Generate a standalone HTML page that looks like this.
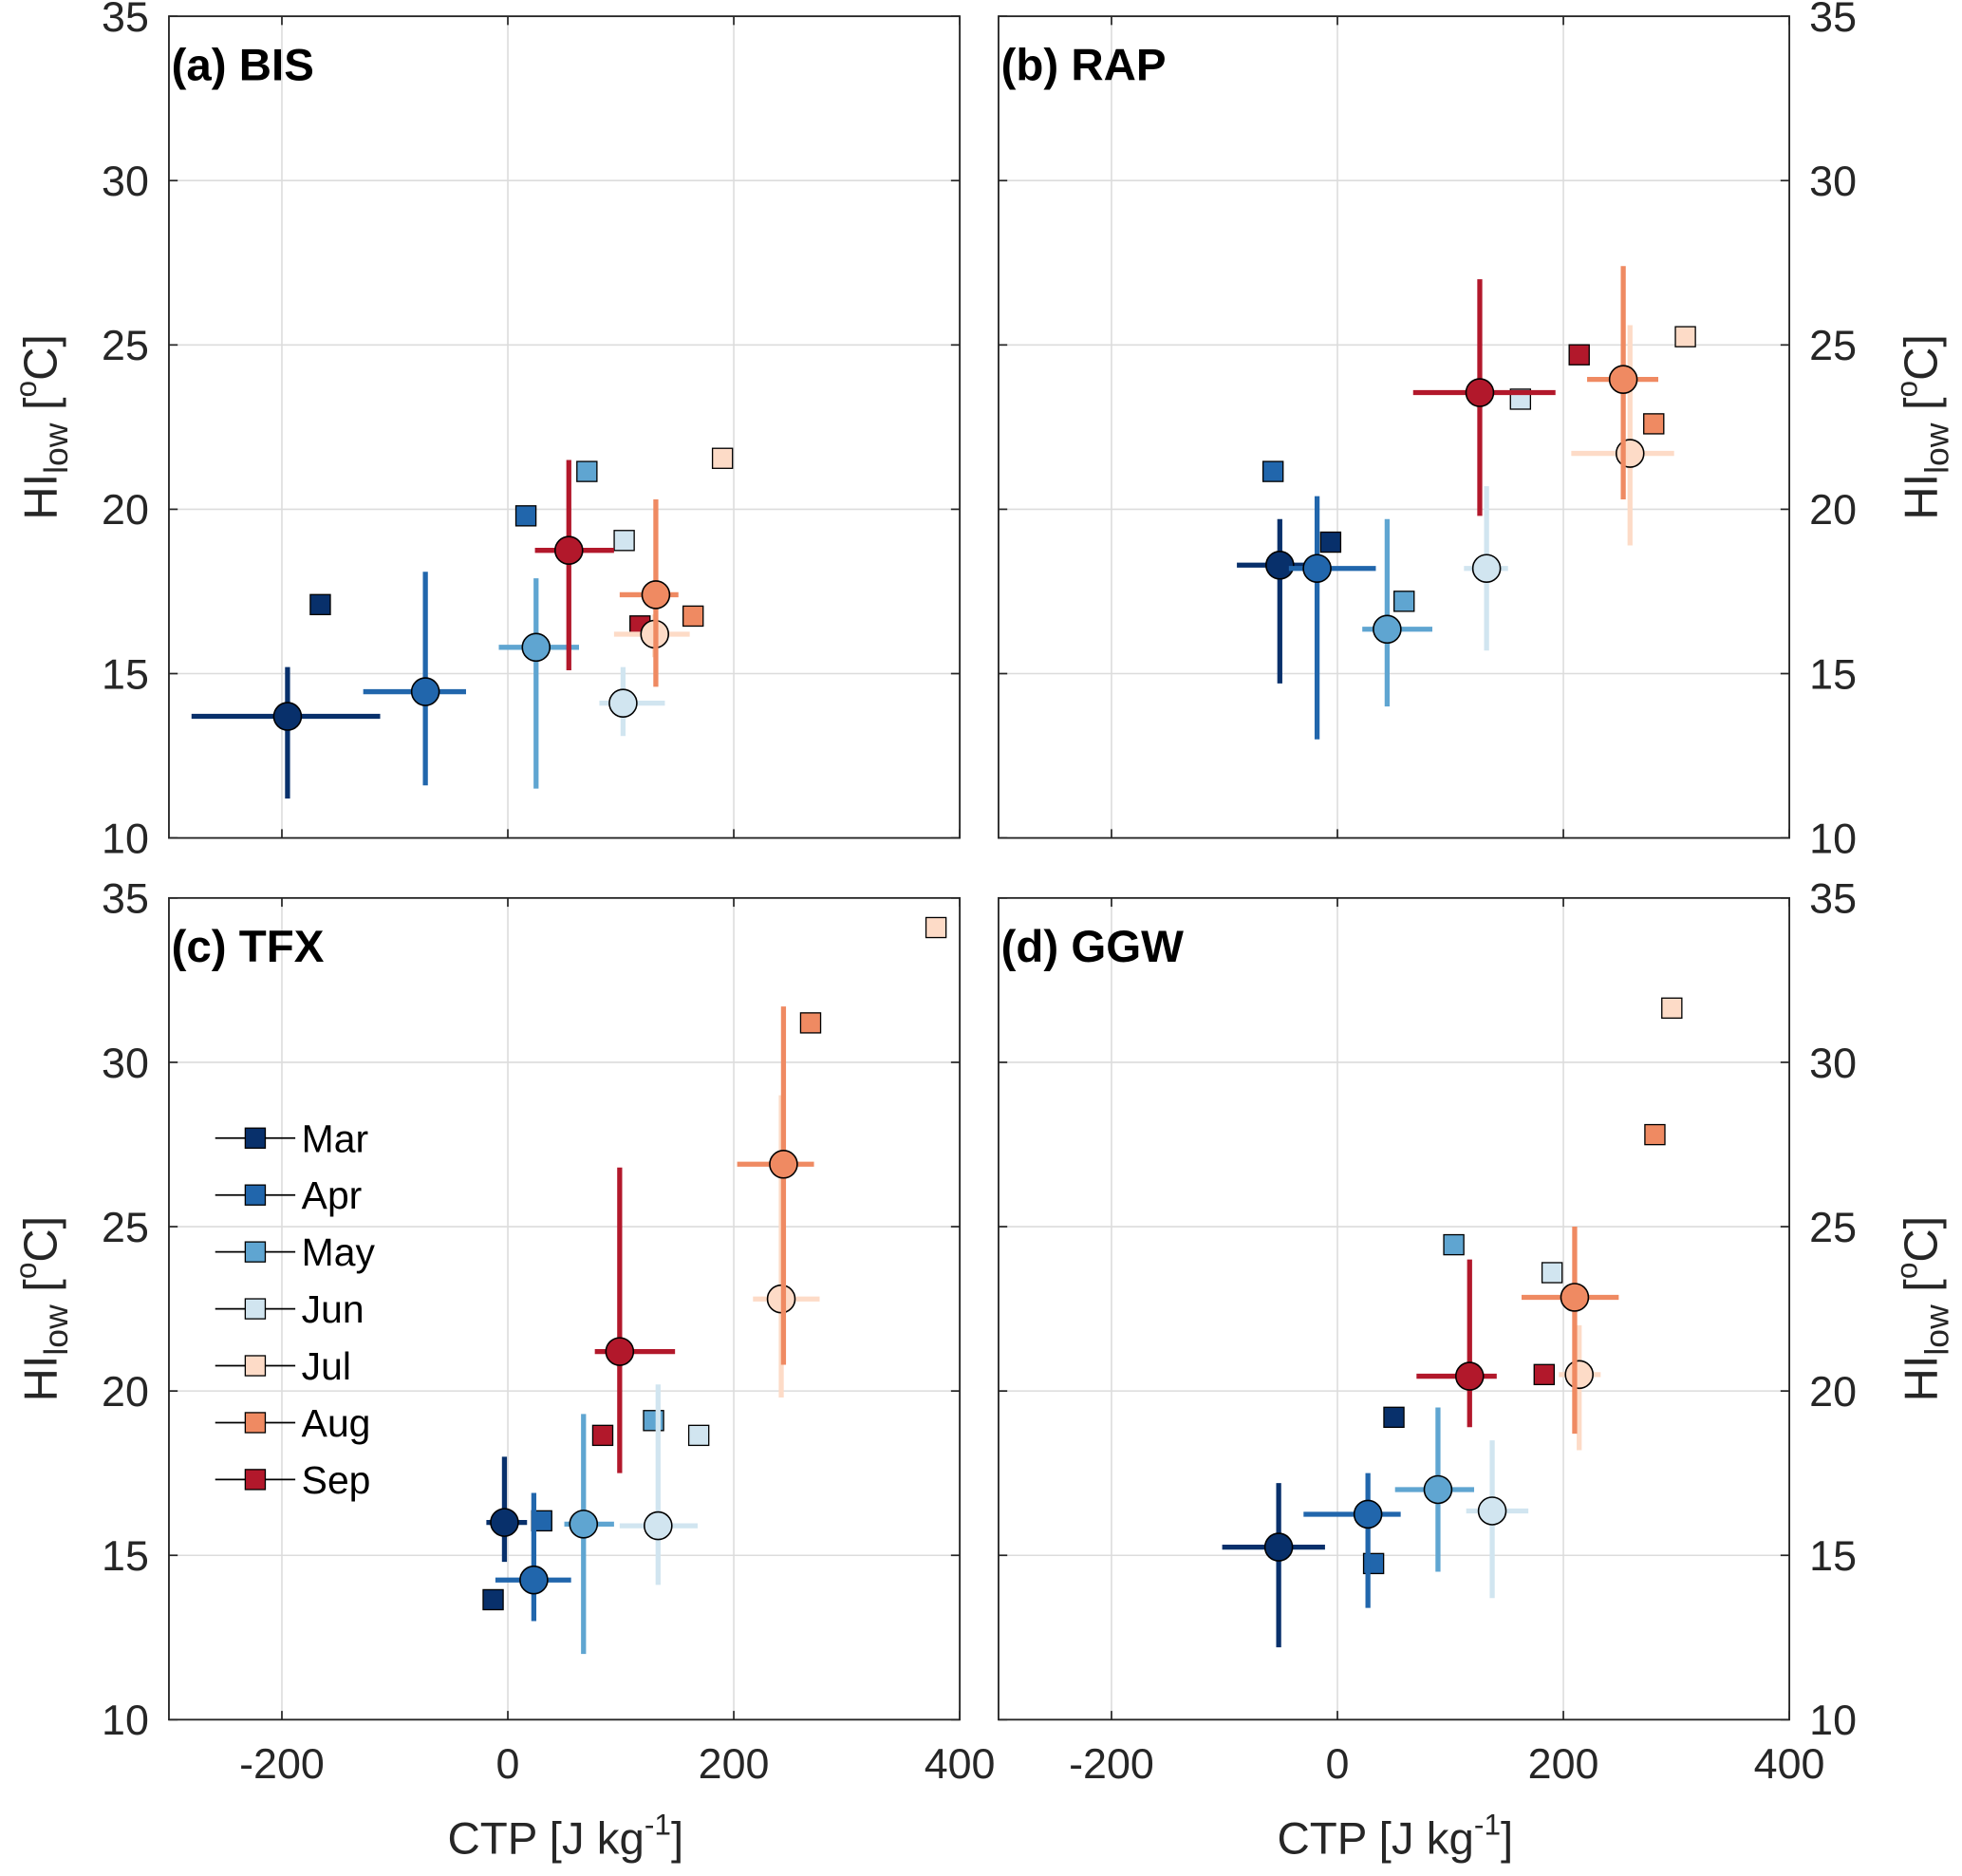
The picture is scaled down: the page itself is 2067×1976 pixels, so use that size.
<!DOCTYPE html>
<html><head><meta charset="utf-8"><style>
html,body{margin:0;padding:0;background:#fff;}
svg{display:block;font-family:"Liberation Sans",Arial,sans-serif;}
</style></head><body>
<svg id="chart" width="2067" height="1976" viewBox="0 0 1568 1500" preserveAspectRatio="none" xmlns="http://www.w3.org/2000/svg"></svg>
<script>
const months=["Mar","Apr","May","Jun","Jul","Aug","Sep"];
const colors=["#08306b","#2166ac","#5fa5d1","#d1e5f0","#fddbc7","#ef8a62","#b2182b"];
const xTicks=[-200,0,200,400];
const yTicks=[10,15,20,25,30,35];
const panelLabels=["(a) BIS","(b) RAP","(c) TFX","(d) GGW"];
const cx=[[-195,-73,25,102,130,131,54],[-51,-18,44,132,259,253,126],[-3,23,67,133,242,244,99],[-52,27,89,137,214,210,117]];
const cy=[[13.7,14.45,15.8,14.1,16.2,17.4,18.75],[18.3,18.2,16.35,18.2,21.7,23.95,23.55],[16.0,14.25,15.95,15.9,22.8,26.9,21.2],[15.25,16.25,17.0,16.35,20.5,22.85,20.45]];
const xlo=[[-280,-128,-8,81,94,99,24],[-89,-43,22,112,207,221,67],[-19,-11,50,99,217,203,77],[-102,-30,51,114,196,163,70]];
const xhi=[[-113,-37,63,139,161,151,94],[-12,34,84,151,298,284,193],[17,56,94,168,276,271,148],[-11,56,121,169,233,249,141]];
const ylo=[[11.2,11.6,11.5,13.1,15.5,14.6,15.1],[14.7,13.0,14.0,15.7,18.9,20.3,19.8],[14.8,13.0,12.0,14.1,19.8,20.8,17.5],[12.2,13.4,14.5,13.7,18.2,18.7,18.9]];
const yhi=[[15.2,18.1,17.9,15.2,16.8,20.3,21.5],[19.7,20.4,19.7,20.7,25.6,27.4,27.0],[18.0,16.9,19.3,20.2,29.0,31.7,26.8],[17.2,17.5,19.5,18.5,22.0,25.0,24.0]];
const sx=[[-166,16,70,103,190,164,117],[-6,-57,59,162,308,280,214],[-13,30,129,169,379,268,84],[50,32,103,190,296,281,183]];
const sy=[[17.1,19.8,21.15,19.05,21.55,16.75,16.45],[19.0,21.15,17.2,23.35,25.25,22.6,24.7],[13.65,16.05,19.1,18.65,34.1,31.2,18.65],[19.2,14.75,24.45,23.6,31.65,27.8,20.5]];

const NS="http://www.w3.org/2000/svg";
const svg=document.getElementById("chart");
function mk(tag,attrs,parent){const e=document.createElementNS(NS,tag);for(const k in attrs)e.setAttribute(k,attrs[k]);(parent||svg).appendChild(e);return e;}
const panels=[{x0:135,y0:13},{x0:798,y0:13},{x0:135,y0:718},{x0:798,y0:718}];
const W=632,H=657,XMIN=-300,XMAX=400,YMIN=10,YMAX=35;
const yTitle='HI<tspan font-size="27" dy="9">low</tspan><tspan dy="-9"> [</tspan><tspan font-size="24" dy="-16">o</tspan><tspan dy="16">C]</tspan>';
panels.forEach((p,pi)=>{
  const g=mk("g",{});
  
  
  const X=v=>p.x0+(v-XMIN)/(XMAX-XMIN)*W;
  const Y=v=>p.y0+H-(v-YMIN)/(YMAX-YMIN)*H;
  mk("rect",{x:p.x0,y:p.y0,width:W,height:H,fill:"#fff"},g);
  xTicks.forEach(t=>{if(t<XMAX){mk("line",{x1:X(t),x2:X(t),y1:p.y0,y2:p.y0+H,stroke:"#dcdcdc","stroke-width":1.2},g);}
    mk("line",{x1:X(t),x2:X(t),y1:p.y0+H,y2:p.y0+H-7,stroke:"#262626","stroke-width":1.3},g);
    mk("line",{x1:X(t),x2:X(t),y1:p.y0,y2:p.y0+7,stroke:"#262626","stroke-width":1.3},g);
    if(pi>=2){const tx=mk("text",{x:X(t),y:p.y0+H+47,"text-anchor":"middle","font-size":34,fill:"#262626"},g);tx.textContent=t;
      }
  });
  yTicks.forEach(t=>{if(t>YMIN&&t<YMAX)mk("line",{x1:p.x0,x2:p.x0+W,y1:Y(t),y2:Y(t),stroke:"#dcdcdc","stroke-width":1.2},g);
    mk("line",{x1:p.x0,x2:p.x0+7,y1:Y(t),y2:Y(t),stroke:"#262626","stroke-width":1.3},g);
    mk("line",{x1:p.x0+W,x2:p.x0+W-7,y1:Y(t),y2:Y(t),stroke:"#262626","stroke-width":1.3},g);
    const left=pi%2==0;
    const tx=mk("text",{x:left?p.x0-16:p.x0+W+16,y:Y(t)+12,"text-anchor":left?"end":"start","font-size":34,fill:"#262626"},g);tx.textContent=t;
    
  });
  mk("rect",{x:p.x0,y:p.y0,width:W,height:H,fill:"none",stroke:"#262626","stroke-width":1.4},g);
  const lb=mk("text",{x:p.x0+2,y:p.y0+51,"font-size":36,"font-weight":"bold",fill:"#000"},g);lb.textContent=panelLabels[pi];
  
  months.forEach((m,i)=>{
    const s=mk("rect",{x:X(sx[pi][i])-8,y:Y(sy[pi][i])-8,width:16,height:16,fill:colors[i],stroke:"#000","stroke-width":1},g);
    
  });
  months.forEach((m,i)=>{
    const c=colors[i];
    const h=mk("line",{x1:X(xlo[pi][i]),x2:X(xhi[pi][i]),y1:Y(cy[pi][i]),y2:Y(cy[pi][i]),stroke:c,"stroke-width":4},g);
    
    const v=mk("line",{x1:X(cx[pi][i]),x2:X(cx[pi][i]),y1:Y(ylo[pi][i]),y2:Y(yhi[pi][i]),stroke:c,"stroke-width":4},g);
    
    const ci=mk("circle",{cx:X(cx[pi][i]),cy:Y(cy[pi][i]),r:11,fill:c,stroke:"#000","stroke-width":1.2},g);
    
  });
  if(pi%2==0){const t=mk("text",{transform:`translate(${p.x0-90},${p.y0+H/2}) rotate(-90)`,"text-anchor":"middle","font-size":37,fill:"#262626"},g);
    t.innerHTML=yTitle;
    }
  else{const t=mk("text",{transform:`translate(${p.x0+W+118},${p.y0+H/2}) rotate(-90)`,"text-anchor":"middle","font-size":37,fill:"#262626"},g);
    t.innerHTML=yTitle;
    }
  if(pi>=2){const t=mk("text",{x:p.x0+W/2+1,y:p.y0+H+107,"text-anchor":"middle","font-size":36,fill:"#262626"},g);
    t.innerHTML='CTP [J kg<tspan font-size="24" dy="-15">-1</tspan><tspan dy="15">]</tspan>';
    }
  if(pi==2){
    months.forEach((m,i)=>{
      const yy=910+i*45.5;
      const lg=mk("g",{},g);
      
      mk("line",{x1:172,x2:236,y1:yy,y2:yy,stroke:"#000","stroke-width":1.3},lg);
      mk("rect",{x:196,y:yy-8,width:16,height:16,fill:colors[i],stroke:"#000","stroke-width":1},lg);
      const t=mk("text",{x:241,y:yy+11,"font-size":31,fill:"#000"},lg);t.textContent=m;
    });
  }
});
</script>
</body></html>
